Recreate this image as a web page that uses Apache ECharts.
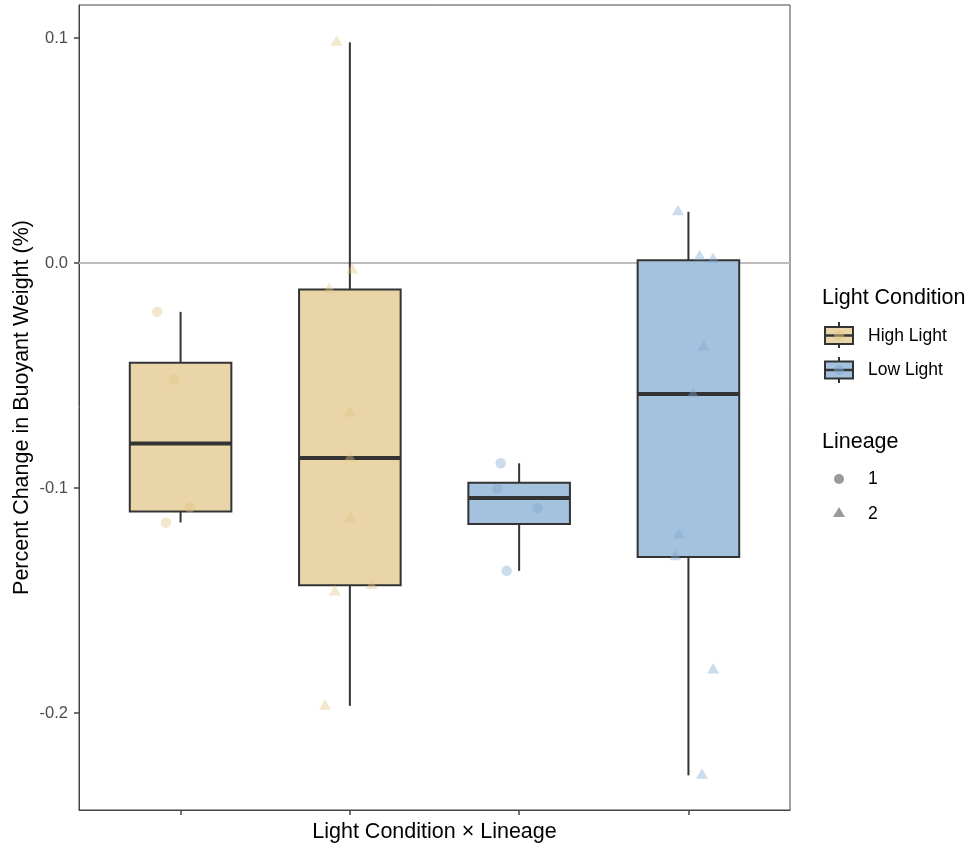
<!DOCTYPE html>
<html>
<head>
<meta charset="utf-8">
<script src="https://cdn.jsdelivr.net/npm/echarts@6/dist/echarts.min.js"></script>
<style>
  html, body { margin: 0; padding: 0; background: #fff; }
  #chart { width: 969px; height: 843px; }
</style>
</head>
<body>
<div id="chart"></div>
<script>
// --- data ---
var groupPos = [1, 2, 3, 4];
var groupCondition = ['High Light', 'High Light', 'Low Light', 'Low Light'];
var groupLineage = ['1', '2', '1', '2'];

// box statistics (whisker low, Q1, median, Q3, whisker high)
var boxMin = [-0.1153, -0.1968, -0.1368, -0.2277];
var boxQ1 = [-0.1104, -0.1432, -0.1160, -0.1306];
var boxMed = [-0.0802, -0.0867, -0.1044, -0.0582];
var boxQ3 = [-0.0443, -0.0117, -0.0977, 0.0013];
var boxMax = [-0.0217, 0.0981, -0.0890, 0.0228];

// individual observations and their horizontal jitter (category units)
var obsValues = [
  [-0.0216, -0.0517, -0.1087, -0.1153],
  [0.0981, -0.0031, -0.0117, -0.0667, -0.0867, -0.1138, -0.1462, -0.1434, -0.1970],
  [-0.0890, -0.1003, -0.1090, -0.1368],
  [0.0228, 0.0028, 0.0016, -0.0373, -0.0582, -0.1209, -0.1305, -0.1809, -0.2277]
];
var obsJitter = [
  [-0.138, -0.039, 0.054, -0.086],
  [-0.078, 0.014, -0.122, 0.0, 0.0, 0.005, -0.088, 0.129, -0.147],
  [-0.109, -0.129, 0.109, -0.074],
  [-0.062, 0.066, 0.145, 0.089, 0.027, -0.056, -0.078, 0.146, 0.080]
];

var yTicks = [-0.2, -0.1, 0, 0.1];
var refLine = 0;

var boxFill = { 'High Light': '#EAD5A8', 'Low Light': '#A4C2DE' };
var pointFill = { 'High Light': 'rgba(225,195,131,0.5)', 'Low Light': 'rgba(125,168,208,0.5)' };
var ink = '#333333';
var font = '"Liberation Sans", Arial, Helvetica, sans-serif';

var boxData = groupPos.map(function(x, i) {
  return [x, boxMin[i], boxQ1[i], boxMed[i], boxQ3[i], boxMax[i]];
});

var pointSeries = groupPos.map(function(x, i) {
  var tri = groupLineage[i] === '2';
  return {
    type: 'scatter',
    name: groupCondition[i] + ' ' + groupLineage[i],
    z: 5,
    symbol: tri ? 'triangle' : 'circle',
    symbolSize: tri ? [12, 10.5] : 10.5,
    symbolOffset: tri ? [0, -1.75] : [0, 0],
    itemStyle: { color: pointFill[groupCondition[i]] },
    silent: true,
    data: obsValues[i].map(function(v, j) { return [x + obsJitter[i][j], v]; })
  };
});

var chart = echarts.init(document.getElementById('chart'), null, { renderer: 'canvas' });

chart.setOption({
  animation: false,
  textStyle: { fontFamily: font },
  grid: {
    left: 79, right: 179, top: 5, bottom: 33,
    outerBoundsMode: 'none',
    containLabel: false,
    show: true, borderColor: '#444', borderWidth: 1
  },
  xAxis: {
    type: 'value',
    min: 0.4,
    max: 4.6,
    name: 'Light Condition \u00d7 Lineage',
    nameLocation: 'middle',
    nameGap: 11,
    nameTextStyle: { color: '#000', fontSize: 21.5, fontFamily: font },
    axisLine: { show: true, onZero: false, lineStyle: { color: '#444', width: 1 } },
    axisTick: { show: true, customValues: groupPos, length: 5, lineStyle: { color: '#444', width: 1.5 } },
    axisLabel: { show: false },
    splitLine: { show: false }
  },
  yAxis: {
    type: 'value',
    min: -0.2431,
    max: 0.1147,
    name: 'Percent Change in Buoyant Weight (%)',
    nameLocation: 'middle',
    nameGap: 46,
    nameMoveOverlap: false,
    nameTextStyle: { color: '#000', fontSize: 21.5, fontFamily: font },
    axisLine: { show: true, onZero: false, lineStyle: { color: '#444', width: 1 } },
    axisTick: { show: true, customValues: yTicks, length: 5, lineStyle: { color: '#444', width: 1.5 } },
    axisLabel: {
      customValues: yTicks,
      color: '#4d4d4d',
      fontSize: 16.5,
      margin: 11,
      fontFamily: font,
      formatter: function(v) { return v.toFixed(1); }
    },
    splitLine: { show: false }
  },
  series: [
    {
      type: 'line',
      z: 1,
      silent: true,
      symbol: 'none',
      lineStyle: { color: '#bdbdbd', width: 2 },
      data: [[0.4, refLine], [4.6, refLine]]
    },
    {
      type: 'custom',
      z: 2,
      silent: true,
      encode: { x: 0, y: [1, 2, 3, 4, 5] },
      data: boxData,
      renderItem: function(params, api) {
        var x = api.value(0);
        var half = 0.3;
        var lo = api.coord([x - half, api.value(2)]);
        var hi = api.coord([x + half, api.value(4)]);
        var pMin = api.coord([x, api.value(1)]);
        var pMax = api.coord([x, api.value(5)]);
        var mL = api.coord([x - half, api.value(3)]);
        var mR = api.coord([x + half, api.value(3)]);
        var fill = boxFill[groupCondition[params.dataIndex]];
        return {
          type: 'group',
          children: [
            { type: 'line', shape: { x1: pMax[0], y1: pMax[1], x2: pMax[0], y2: hi[1] }, style: { stroke: ink, lineWidth: 2 } },
            { type: 'line', shape: { x1: pMin[0], y1: pMin[1], x2: pMin[0], y2: lo[1] }, style: { stroke: ink, lineWidth: 2 } },
            { type: 'rect', shape: { x: lo[0], y: hi[1], width: hi[0] - lo[0], height: lo[1] - hi[1] }, style: { fill: fill, stroke: ink, lineWidth: 2 } },
            { type: 'line', shape: { x1: mL[0], y1: mL[1], x2: mR[0], y2: mR[1] }, style: { stroke: ink, lineWidth: 4 } }
          ]
        };
      }
    }
  ].concat(pointSeries),
  graphic: [
    { type: 'text', x: 822, y: 298, style: { text: 'Light Condition', font: '21.5px ' + font, fill: '#000', verticalAlign: 'middle' } },
    // High Light key
    { type: 'line', shape: { x1: 839, y1: 322, x2: 839, y2: 348 }, style: { stroke: ink, lineWidth: 2 } },
    { type: 'rect', shape: { x: 825, y: 327, width: 28, height: 17 }, style: { fill: boxFill['High Light'], stroke: ink, lineWidth: 2 } },
    { type: 'line', shape: { x1: 825, y1: 335.5, x2: 853, y2: 335.5 }, style: { stroke: ink, lineWidth: 2.5 } },
    { type: 'circle', shape: { cx: 839, cy: 335.5, r: 5 }, style: { fill: pointFill['High Light'] } },
    { type: 'text', x: 868, y: 336, style: { text: 'High Light', font: '17.5px ' + font, fill: '#000', verticalAlign: 'middle' } },
    // Low Light key
    { type: 'line', shape: { x1: 839, y1: 357, x2: 839, y2: 383 }, style: { stroke: ink, lineWidth: 2 } },
    { type: 'rect', shape: { x: 825, y: 361.5, width: 28, height: 17 }, style: { fill: boxFill['Low Light'], stroke: ink, lineWidth: 2 } },
    { type: 'line', shape: { x1: 825, y1: 370, x2: 853, y2: 370 }, style: { stroke: ink, lineWidth: 2.5 } },
    { type: 'circle', shape: { cx: 839, cy: 370, r: 5 }, style: { fill: pointFill['Low Light'] } },
    { type: 'text', x: 868, y: 370, style: { text: 'Low Light', font: '17.5px ' + font, fill: '#000', verticalAlign: 'middle' } },
    // Lineage
    { type: 'text', x: 822, y: 442, style: { text: 'Lineage', font: '21.5px ' + font, fill: '#000', verticalAlign: 'middle' } },
    { type: 'circle', shape: { cx: 839, cy: 479, r: 5 }, style: { fill: '#9a9a9a' } },
    { type: 'text', x: 868, y: 479, style: { text: '1', font: '17.5px ' + font, fill: '#000', verticalAlign: 'middle' } },
    { type: 'polygon', shape: { points: [[833, 517], [845, 517], [839, 507]] }, style: { fill: '#9a9a9a' } },
    { type: 'text', x: 868, y: 514, style: { text: '2', font: '17.5px ' + font, fill: '#000', verticalAlign: 'middle' } }
  ]
});
</script>
</body>
</html>
